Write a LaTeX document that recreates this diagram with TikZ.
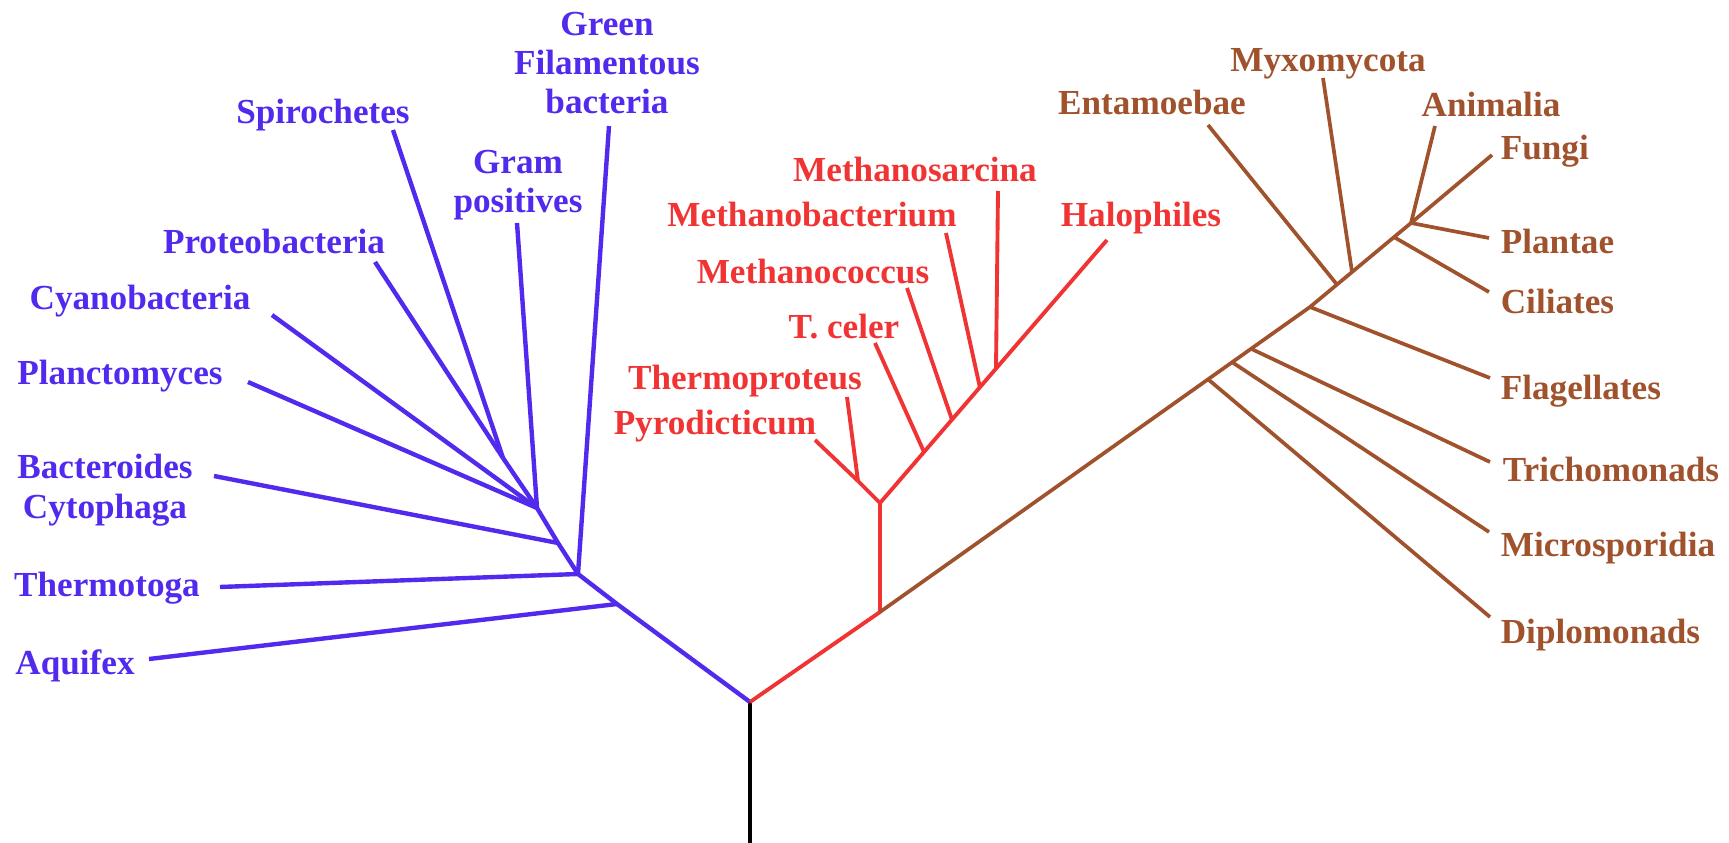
\documentclass[tikz,border=0pt]{standalone}
\usepackage{fontspec}
\setmainfont{Liberation Serif}
\usepackage{tikz}
\usetikzlibrary{calc}

\definecolor{bactblue}{RGB}{82,42,238}
\definecolor{archred}{RGB}{240,52,52}
\definecolor{eukbrown}{RGB}{160,82,45}

\begin{document}
\begin{tikzpicture}[x=0.01cm, y=-0.01cm, line join=round,
    lab/.style={font=\bfseries, inner sep=0pt, text height=6.6pt, text depth=0pt},
    lab2/.style={font=\bfseries\fontsize{10}{11.2}\selectfont, inner sep=0pt, align=center}]
    % 画布与原图同尺寸（1 像素 = 0.01cm）
    \useasboundingbox (0,0) rectangle (1729,843);

    % --- 宏：从分叉点画一根叶枝，并在叶端旁标注名称 ---
    % #1 名称, #2 分叉点, #3 叶端, #4 标签位置, #5 标签样式, #6 文字
    \newcommand{\drawleaf}[6]{
        \coordinate (#1) at (#3);
        \node[#5] (#1-lab) at (#4) {#6};
        \draw (#2) -- (#1);
    }

    % --- 树根 ---
    \coordinate (root) at (750,702);
    \coordinate (base) at (750,843);
    \draw[line width=1.05pt] (base) -- (root);

    % --- 细菌（蓝色） ---
    \begin{scope}[bactblue, line width=1.25pt]
        \coordinate (A1) at (617,604);
        \coordinate (B1) at (578,574);
        \coordinate (B2) at (558,543);
        \coordinate (B3) at (537,508);
        \coordinate (S1) at (503,458);
        \draw (root) -- (A1) -- (B1) -- (B2) -- (B3) -- (S1);

        \drawleaf{aquifex}{A1}{149,659}{75,663}{lab}{Aquifex}
        \drawleaf{thermotoga}{B1}{220,587}{107,585}{lab}{Thermotoga}
        \drawleaf{green}{B1}{609,126}{607,63}{lab2}{Green\\Filamentous\\bacteria}
        \drawleaf{bactero}{B2}{214,476}{105,490}{lab2}{Bacteroides\\Cytophaga}
        \drawleaf{gram}{B3}{517,223}{518,185}{lab2}{Gram\\positives}
        \drawleaf{plancto}{B3}{248,382}{120,373}{lab}{Planctomyces}
        \drawleaf{cyano}{B3}{272,315}{140,298}{lab}{Cyanobacteria}
        \drawleaf{proteo}{S1}{375,262}{274,242}{lab}{Proteobacteria}
        \drawleaf{spiro}{S1}{393,130}{323,112}{lab}{Spirochetes}
    \end{scope}

    % --- 古菌（红色） ---
    \begin{scope}[archred, line width=1.1pt]
        \coordinate (R3) at (880,612);
        \coordinate (R2) at (880,503);
        \coordinate (P1) at (858,481);
        \draw (root) -- (R3) -- (R2) -- (P1);

        \drawleaf{halo}{R2}{1107,240}{1141,215}{lab}{Halophiles}
        % 沿 R2 → halo 的分叉点
        \coordinate (J1) at ($(R2)!0.194!(halo)$);
        \coordinate (J2) at ($(R2)!0.317!(halo)$);
        \coordinate (J3) at ($(R2)!0.440!(halo)$);
        \coordinate (J4) at ($(R2)!0.511!(halo)$);
        \drawleaf{celer}{J1}{875,343}{844,327}{lab}{T. celer}
        \drawleaf{coccus}{J2}{907,288}{813,272}{lab}{Methanococcus}
        \drawleaf{bacterium}{J3}{946,233}{812,215}{lab}{Methanobacterium}
        \drawleaf{sarcina}{J4}{998,191}{915,170}{lab}{Methanosarcina}
        \drawleaf{proteus}{P1}{847,397}{745,378}{lab}{Thermoproteus}
        \drawleaf{pyro}{P1}{815,440}{715,423}{lab}{Pyrodicticum}
    \end{scope}

    % --- 真核生物（棕色） ---
    \begin{scope}[eukbrown, line width=1.05pt]
        \coordinate (F1) at (1310,307);
        \coordinate (E1) at (1411,223);
        \draw (R3) -- (F1) -- (E1);
        \coordinate (D1) at ($(R3)!0.763!(F1)$);
        \coordinate (M1) at ($(R3)!0.819!(F1)$);
        \coordinate (T1) at ($(R3)!0.863!(F1)$);
        \coordinate (En1) at ($(F1)!0.267!(E1)$);
        \coordinate (My1) at ($(F1)!0.416!(E1)$);
        \coordinate (C1) at ($(F1)!0.832!(E1)$);

        \drawleaf{diplo}{D1}{1490,617}{1499,632}{lab, anchor=west}{Diplomonads}
        \drawleaf{micro}{M1}{1489,532}{1499,545}{lab, anchor=west}{Microsporidia}
        \drawleaf{tricho}{T1}{1490,462}{1501,470}{lab, anchor=west}{Trichomonads}
        \drawleaf{flag}{F1}{1490,378}{1499,388}{lab, anchor=west}{Flagellates}
        \drawleaf{cil}{C1}{1489,292}{1499,302}{lab, anchor=west}{Ciliates}
        \drawleaf{plant}{E1}{1489,238}{1499,242}{lab, anchor=west}{Plantae}
        \drawleaf{fungi}{E1}{1492,155}{1499,148}{lab, anchor=west}{Fungi}
        \drawleaf{anim}{E1}{1435,126}{1491,105}{lab}{Animalia}
        \drawleaf{myxo}{My1}{1323,78}{1328,60}{lab}{Myxomycota}
        \drawleaf{ent}{En1}{1208,125}{1152,103}{lab}{Entamoebae}
    \end{scope}
\end{tikzpicture}
\end{document}
